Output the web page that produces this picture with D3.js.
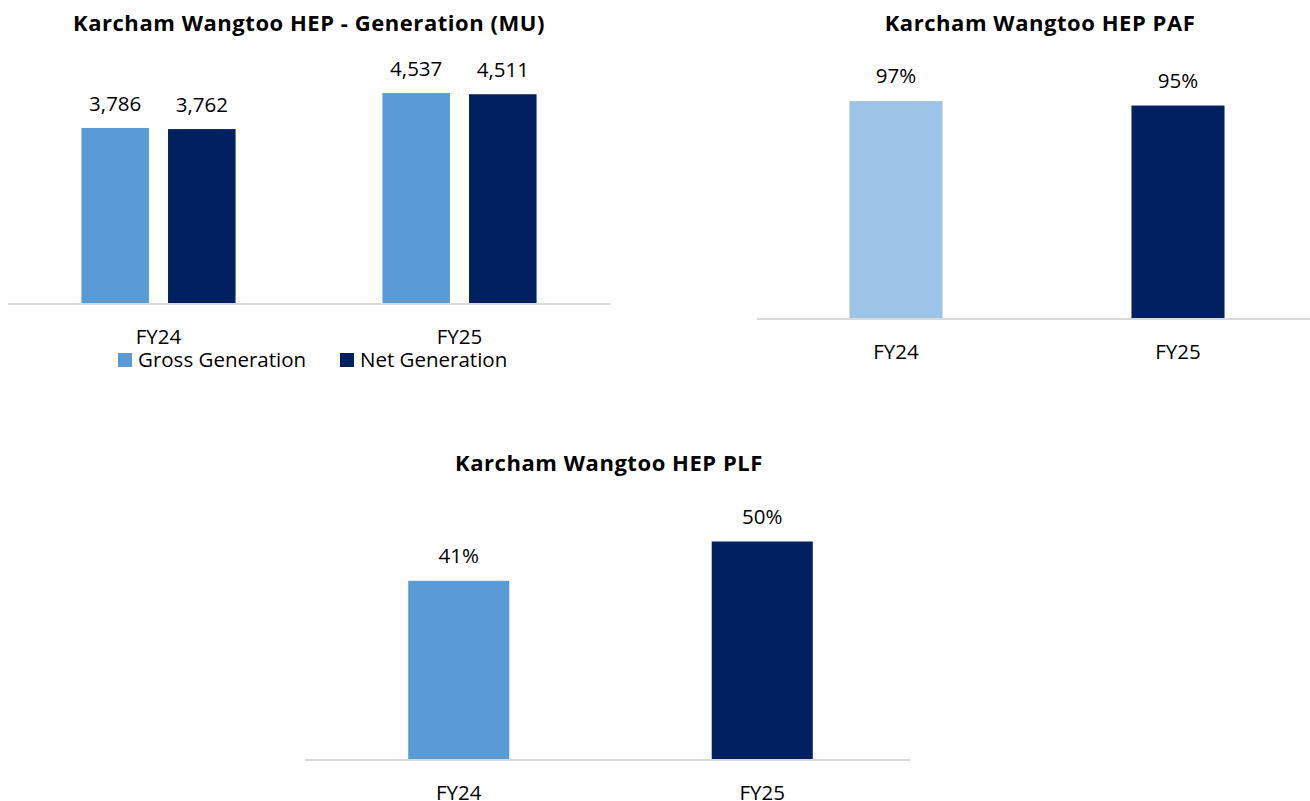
<!DOCTYPE html>
<html>
<head>
<meta charset="utf-8">
<script src="https://cdn.jsdelivr.net/npm/d3@7"></script>
<style>
  html, body { margin: 0; padding: 0; background: #fff; }
  svg { display: block; }
  text { font-family: "Open Sans", Lato, sans-serif; fill: #000; }
</style>
</head>
<body>
<svg id="chart" width="1310" height="801"></svg>
<script>
// ---- Data ----
const categories = ["FY24", "FY25"];
const genSeries = ["Gross Generation", "Net Generation"];
const grossGeneration = [3786, 4537];
const netGeneration = [3762, 4511];
const pafValues = [97, 95];
const plfValues = [41, 50];

const titleGen = "Karcham Wangtoo HEP - Generation (MU)";
const titlePAF = "Karcham Wangtoo HEP PAF";
const titlePLF = "Karcham Wangtoo HEP PLF";

const COL_LIGHT = "#5B9BD5";
const COL_PALE = "#9DC3E6";
const COL_DARK = "#002060";
const AXIS_COL = "#D9D9D9";
const FONT = "\"Open Sans\", Lato, sans-serif";
const LABEL_SIZE = "20.5px";

const svg = d3.select("#chart");
const fmtNum = d3.format(",");
const fmtPct = d => d + "%";

function drawAxisLine(g, x0, x1, y) {
  g.append("line").attr("x1", x0).attr("x2", x1).attr("y1", y).attr("y2", y)
    .attr("stroke", AXIS_COL).attr("stroke-width", 2);
}

function drawCatAxis(g, x, y) {
  const ax = d3.axisBottom(x).tickSize(0).tickPadding(0);
  const a = g.append("g").attr("transform", `translate(0,${y + 40})`).call(ax);
  a.select(".domain").remove();
  a.selectAll("text").attr("dy", 0).style("font-size", LABEL_SIZE).style("font-family", FONT).attr("fill", "#000");
}

function title(g, text, cx, cy) {
  g.append("text").attr("x", cx).attr("y", cy).attr("text-anchor", "middle")
    .attr("dominant-baseline", "central")
    .style("font-weight", "bold").style("font-size", "22px").style("letter-spacing", "0.55px").text(text);
}

// ---- Chart 1: Generation grouped bars ----
(function () {
  const g = svg.append("g");
  const baseY = 304, x0 = 8, x1 = 610;
  const y = d3.scaleLinear().domain([0, 5000]).range([baseY, baseY - 232.5]);
  const x = d3.scaleBand().domain(categories).range([x0, x1]).paddingInner(0.488).paddingOuter(0.244);
  const xs = d3.scaleBand().domain(genSeries).range([0, x.bandwidth()]).paddingInner(0.22);
  const color = d3.scaleOrdinal().domain(genSeries).range([COL_LIGHT, COL_DARK]);
  const rows = categories.map((c, i) => ({ cat: c, vals: [
    { s: genSeries[0], v: grossGeneration[i] }, { s: genSeries[1], v: netGeneration[i] }] }));

  const grp = g.selectAll(".grp").data(rows).join("g").attr("transform", d => `translate(${x(d.cat)},0)`);
  grp.selectAll("rect").data(d => d.vals).join("rect")
    .attr("x", d => xs(d.s)).attr("width", xs.bandwidth())
    .attr("y", d => y(d.v)).attr("height", d => baseY - y(d.v)).attr("fill", d => color(d.s));
  grp.selectAll("text.lbl").data(d => d.vals).join("text").attr("class", "lbl")
    .attr("x", d => xs(d.s) + xs.bandwidth() / 2).attr("y", d => y(d.v) - 17)
    .attr("text-anchor", "middle").style("font-size", LABEL_SIZE).text(d => fmtNum(d.v));

  drawAxisLine(g, x0, x1, baseY);
  drawCatAxis(g, x, baseY);
  title(g, titleGen, (x0 + x1) / 2, 22);

  // legend
  const legX = [118, 340];
  const leg = g.selectAll(".leg").data(genSeries).join("g").attr("transform", (d, i) => `translate(${legX[i]},360)`);
  leg.append("rect").attr("x", 0).attr("y", -7).attr("width", 14).attr("height", 14).attr("fill", d => color(d));
  leg.append("text").attr("x", 20).attr("y", 7).style("font-size", LABEL_SIZE).text(d => d);
})();

// ---- Single-series bar chart helper ----
function singleChart(values, cols, x0, x1, baseY, maxV, pxPerUnit, paddingInner) {
  const g = svg.append("g");
  const y = d3.scaleLinear().domain([0, maxV]).range([baseY, baseY - maxV * pxPerUnit]);
  const x = d3.scaleBand().domain(categories).range([x0, x1]).paddingInner(paddingInner).paddingOuter(paddingInner / 2);
  const rows = categories.map((c, i) => ({ cat: c, v: values[i], col: cols[i] }));
  g.selectAll("rect").data(rows).join("rect")
    .attr("x", d => x(d.cat)).attr("width", x.bandwidth())
    .attr("y", d => y(d.v)).attr("height", d => baseY - y(d.v)).attr("fill", d => d.col);
  g.selectAll("text.lbl").data(rows).join("text").attr("class", "lbl")
    .attr("x", d => x(d.cat) + x.bandwidth() / 2).attr("y", d => y(d.v) - 18)
    .attr("text-anchor", "middle").style("font-size", LABEL_SIZE).text(d => fmtPct(d.v));
  return { g, x };
}

// ---- Chart 2: PAF ----
(function () {
  const x0 = 755, x1 = 1319, baseY = 319;
  const { g, x } = singleChart(pafValues, [COL_PALE, COL_DARK], x0, x1, baseY, 100, 2.247, 0.67);
  drawAxisLine(g, 757, 1310, baseY);
  drawCatAxis(g, x, baseY);
  title(g, titlePAF, 1040, 22);
})();

// ---- Chart 3: PLF ----
(function () {
  const x0 = 307, x1 = 914, baseY = 760;
  const { g, x } = singleChart(plfValues, [COL_LIGHT, COL_DARK], x0, x1, baseY, 60, 4.37, 0.667);
  drawAxisLine(g, 305, 910, baseY);
  drawCatAxis(g, x, baseY);
  title(g, titlePLF, 609, 462);
})();
</script>
</body>
</html>
